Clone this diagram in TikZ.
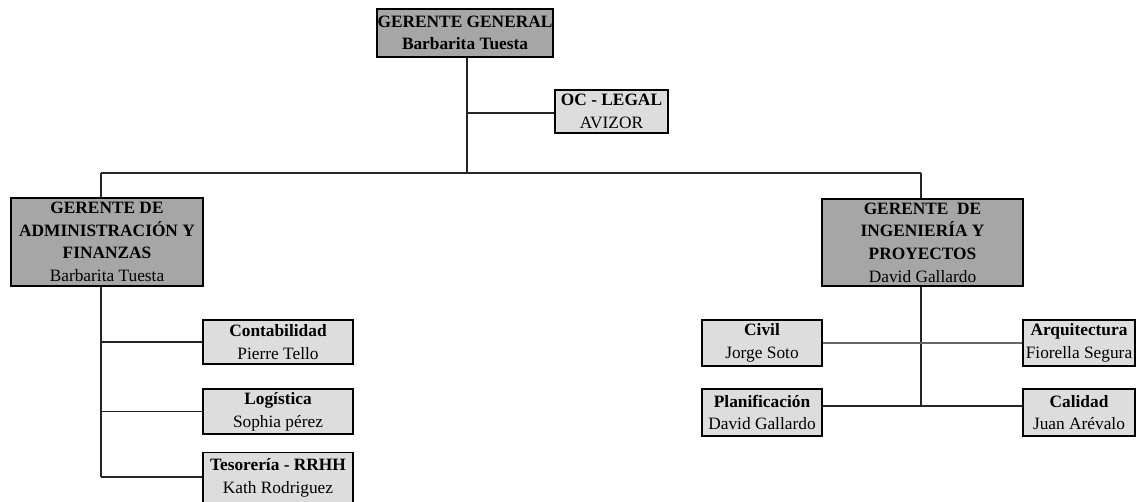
\documentclass[tikz,border=0pt]{standalone}
\usepackage{fontspec}
\setmainfont{Liberation Serif}
\begin{document}
\begin{tikzpicture}[x=0.75pt,y=-0.75pt,
  box/.style={draw=black,line width=1.4pt,inner sep=0pt,align=center,
    font=\fontsize{13}{17}\selectfont},
  sz/.style 2 args={minimum width=#1*0.75pt,minimum height=#2*0.75pt},
  dark/.style={box,fill={rgb,255:red,166;green,166;blue,166}},
  light/.style={box,fill={rgb,255:red,221;green,221;blue,221}},
  conn/.style={draw=black!85,line width=0.8pt}]
\useasboundingbox (0,0) rectangle (1139,502);
\node[dark,sz={176}{48}] (gg) at (465,33)
  {\textbf{GERENTE GENERAL}\\\textbf{Barbarita Tuesta}};
\node[light,sz={113}{43}] (oc) at (611.5,111.5)
  {\textbf{OC - LEGAL}\\AVIZOR};
\node[dark,sz={192}{88}] (adm) at (107,242)
  {\textbf{GERENTE DE}\\\textbf{ADMINISTRACIÓN Y}\\\textbf{FINANZAS}\\Barbarita Tuesta};
\node[dark,sz={201}{87}] (ing) at (922.5,242.5)
  {\textbf{GERENTE\ \ DE}\\\textbf{INGENIERÍA Y}\\\textbf{PROYECTOS}\\David Gallardo};
\node[light,sz={150}{44}] (cont) at (278,342)
  {\textbf{Contabilidad}\\Pierre Tello};
\node[light,sz={150}{45}] (log) at (278,411.5)
  {\textbf{Logística}\\Sophia pérez};
\node[light,sz={150}{51}] (tes) at (278,478)
  {\textbf{Tesorería - RRHH}\\Kath Rodriguez};
\node[light,sz={120}{46}] (civ) at (762,343)
  {\textbf{Civil}\\Jorge Soto};
\node[light,sz={112}{46}] (arq) at (1079,343)
  {\textbf{Arquitectura}\\Fiorella Segura};
\node[light,sz={120}{47}] (pla) at (762,412.5)
  {\textbf{Planificación}\\David Gallardo};
\node[light,sz={112}{47}] (cal) at (1079,412.5)
  {\textbf{Calidad}\\Juan Arévalo};
% connectors
\coordinate (bus) at (467,173);
\coordinate (busL) at (101,173);
\coordinate (busR) at (921,173);
\coordinate (ocj) at (467,113);
\coordinate (aL) at (101,477);
\coordinate (iB) at (921,406);
\draw[conn] (gg.south -| bus) -- (bus);
\draw[conn] (ocj) -- (oc.west |- ocj);
\draw[conn] (busL) -- (busR);
\draw[conn] (busL) -- (adm.north -| busL);
\draw[conn] (busR) -- (ing.north -| busR);
\draw[conn] (adm.south -| aL) -- (aL);
\draw[conn] (cont.west -| aL) -- (cont.west);
\draw[conn] (log.west -| aL) -- (log.west);
\draw[conn] (aL) -- (tes.west |- aL);
\draw[conn] (ing.south -| iB) -- (iB);
\draw[conn,draw=black!60,line width=1pt] (civ.east) -- (arq.west);
\draw[conn] (pla.east |- iB) -- (cal.west |- iB);
\end{tikzpicture}
\end{document}
